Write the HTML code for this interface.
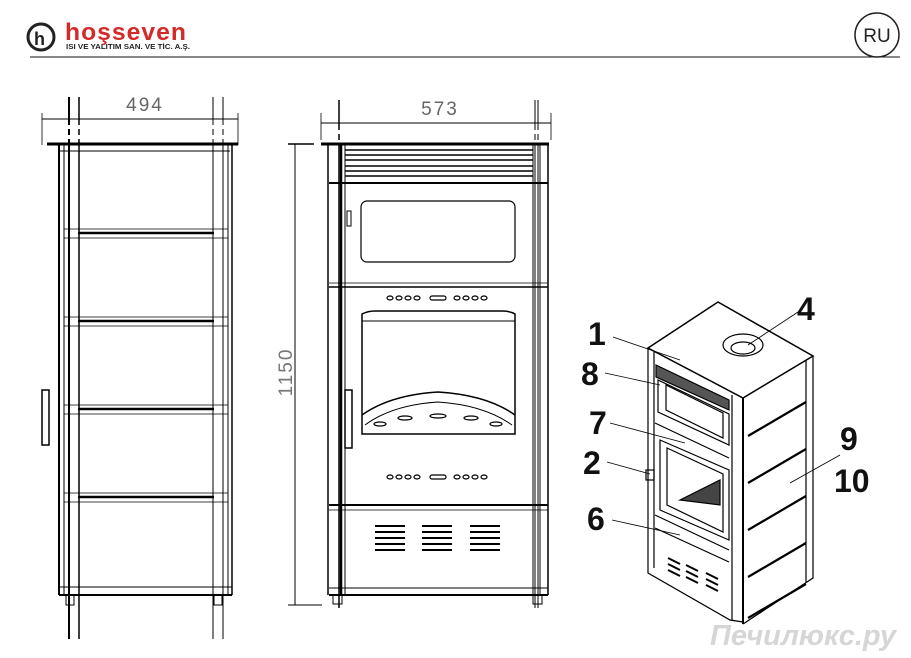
<!DOCTYPE html>
<html><head><meta charset="utf-8"><style>
html,body{margin:0;padding:0;background:#fff;}
svg{display:block;}
</style></head><body>
<svg width="911" height="658" viewBox="0 0 911 658" xmlns="http://www.w3.org/2000/svg" font-family="Liberation Sans, sans-serif">
<!-- header -->
<circle cx="41" cy="37" r="13" fill="none" stroke="#222" stroke-width="3"/>
<text x="34" y="45" font-size="18" font-weight="bold" fill="#222">h</text>
<text x="65" y="40" font-size="24" font-weight="bold" fill="#d42a2a" letter-spacing="1" textLength="122" lengthAdjust="spacingAndGlyphs">hoşseven</text>
<text x="66" y="49" font-size="7" font-weight="bold" fill="#222" textLength="124" lengthAdjust="spacingAndGlyphs">ISI VE YALITIM SAN. VE TİC. A.Ş.</text>
<line x1="30" y1="57" x2="900" y2="57" stroke="#111" stroke-width="1"/>
<circle cx="877" cy="35" r="22" fill="#fff" stroke="#222" stroke-width="1.5"/>
<text x="877" y="42" font-size="19" text-anchor="middle" fill="#222">RU</text>

<!-- LEFT VIEW -->
<g stroke="#000" fill="none">
<text x="145" y="111" font-size="19" fill="#666" stroke="none" text-anchor="middle" letter-spacing="2">494</text>
<line x1="42" y1="119" x2="238" y2="119" stroke-width="1"/>
<line x1="42" y1="113" x2="42" y2="145" stroke-width="0.8"/>
<line x1="238" y1="113" x2="238" y2="145" stroke-width="0.8"/>
<line x1="69" y1="97" x2="69" y2="640" stroke-width="2" stroke-dasharray="28,4,6,4,500"/>
<line x1="79" y1="97" x2="79" y2="640" stroke-width="1.5" stroke-dasharray="28,4,6,4,500"/>
<line x1="213" y1="97" x2="213" y2="640" stroke-width="1" stroke-dasharray="28,4,6,4,500"/>
<line x1="223" y1="97" x2="223" y2="640" stroke-width="1" stroke-dasharray="28,4,6,4,500"/>
<line x1="47" y1="144" x2="238" y2="144" stroke-width="3"/>
<line x1="59" y1="145" x2="59" y2="595" stroke-width="2"/>
<line x1="64" y1="145" x2="64" y2="595" stroke-width="1"/>
<line x1="228" y1="145" x2="228" y2="595" stroke-width="1"/>
<line x1="232" y1="145" x2="232" y2="595" stroke-width="1.5"/>
<line x1="60" y1="151" x2="230" y2="151" stroke-width="1"/>
<g stroke-width="2.5">
<line x1="78" y1="233" x2="214" y2="233"/><line x1="78" y1="321" x2="214" y2="321"/>
<line x1="78" y1="409" x2="214" y2="409"/><line x1="78" y1="497" x2="214" y2="497"/>
</g>
<g stroke-width="0.8">
<line x1="64" y1="238" x2="228" y2="238"/><line x1="64" y1="326" x2="228" y2="326"/>
<line x1="64" y1="414" x2="228" y2="414"/><line x1="64" y1="502" x2="228" y2="502"/>
<line x1="64" y1="229" x2="228" y2="229"/><line x1="64" y1="317" x2="228" y2="317"/>
<line x1="64" y1="405" x2="228" y2="405"/><line x1="64" y1="493" x2="228" y2="493"/>
</g>
<line x1="59" y1="587" x2="232" y2="587" stroke-width="1"/>
<line x1="59" y1="595" x2="232" y2="595" stroke-width="2"/>
<rect x="42" y="390" width="7" height="55" stroke-width="1.5"/>
<rect x="66" y="595" width="8" height="10" stroke-width="1"/>
<rect x="214" y="595" width="8" height="10" stroke-width="1"/>
</g>

<!-- MIDDLE VIEW -->
<g stroke="#000" fill="none">
<text x="440" y="115" font-size="19" fill="#666" stroke="none" text-anchor="middle" letter-spacing="2">573</text>
<line x1="321" y1="123" x2="551" y2="123" stroke-width="1"/>
<line x1="321" y1="113" x2="321" y2="140" stroke-width="0.8"/>
<line x1="551" y1="113" x2="551" y2="140" stroke-width="0.8"/>
<line x1="339" y1="100" x2="339" y2="608" stroke-width="1.5" stroke-dasharray="30,4,6,4,600"/>
<line x1="535" y1="100" x2="535" y2="608" stroke-width="1" stroke-dasharray="30,4,6,4,600"/>
<line x1="538" y1="100" x2="538" y2="608" stroke-width="1" stroke-dasharray="30,4,6,4,600"/>
<!-- vertical dimension -->
<line x1="288" y1="144" x2="314" y2="144" stroke-width="1.5"/>
<line x1="295" y1="144" x2="295" y2="605" stroke-width="1"/>
<line x1="288" y1="605" x2="322" y2="605" stroke-width="1"/>
<text transform="translate(292,372) rotate(-90)" font-size="19" fill="#777" stroke="none" text-anchor="middle" letter-spacing="2">1150</text>
<line x1="321" y1="144" x2="549" y2="144" stroke-width="3"/>
<line x1="328" y1="145" x2="328" y2="595" stroke-width="1.5"/>
<line x1="341" y1="145" x2="341" y2="595" stroke-width="2.5"/>
<line x1="345" y1="145" x2="345" y2="595" stroke-width="1"/>
<line x1="533" y1="145" x2="533" y2="595" stroke-width="1"/>
<line x1="540" y1="145" x2="540" y2="595" stroke-width="1"/>
<line x1="548" y1="145" x2="548" y2="595" stroke-width="1.5"/>
<g stroke-width="1.5">
<line x1="345" y1="150" x2="533" y2="150"/><line x1="345" y1="155" x2="533" y2="155"/>
<line x1="345" y1="160" x2="533" y2="160"/><line x1="345" y1="166" x2="533" y2="166"/>
<line x1="345" y1="171" x2="533" y2="171"/><line x1="345" y1="176" x2="533" y2="176"/>
</g>
<line x1="329" y1="183" x2="548" y2="183" stroke-width="2"/>
<rect x="361" y="201" width="154" height="61" rx="6" stroke-width="1.2"/>
<rect x="347" y="211" width="4" height="15" stroke-width="1"/>
<line x1="329" y1="283" x2="548" y2="283" stroke-width="0.8"/>
<line x1="329" y1="287" x2="548" y2="287" stroke-width="1.5"/>
<g stroke-width="1.2">
<ellipse cx="390" cy="298" rx="3" ry="2"/><ellipse cx="399" cy="298" rx="3" ry="2"/><ellipse cx="408" cy="298" rx="3" ry="2"/><ellipse cx="417" cy="298" rx="3" ry="2"/>
<rect x="430" y="296" width="16" height="4" rx="2"/>
<ellipse cx="457" cy="298" rx="3" ry="2"/><ellipse cx="466" cy="298" rx="3" ry="2"/><ellipse cx="475" cy="298" rx="3" ry="2"/><ellipse cx="484" cy="298" rx="3" ry="2"/>
</g>
<path d="M362 434 V314 Q368 311 375 311 H502 Q510 311 515 314 V434 Z" stroke-width="1.5"/>
<line x1="362" y1="321" x2="515" y2="321" stroke-width="1"/>
<path d="M362 415 Q390 395 438 392 Q487 395 515 415" stroke-width="1.5"/>
<path d="M365 425 Q392 405 438 402 Q484 405 512 425" stroke-width="1"/>
<g stroke-width="1.2">
<ellipse cx="380" cy="424" rx="6" ry="2"/><ellipse cx="405" cy="418" rx="7" ry="2"/><ellipse cx="438" cy="416" rx="8" ry="2"/><ellipse cx="471" cy="418" rx="7" ry="2"/><ellipse cx="496" cy="424" rx="6" ry="2"/>
</g>
<rect x="345" y="390" width="7" height="58" stroke-width="1.5"/>
<g stroke-width="1.2">
<ellipse cx="390" cy="477" rx="3" ry="2"/><ellipse cx="399" cy="477" rx="3" ry="2"/><ellipse cx="408" cy="477" rx="3" ry="2"/><ellipse cx="417" cy="477" rx="3" ry="2"/>
<rect x="430" y="475" width="16" height="4" rx="2"/>
<ellipse cx="457" cy="477" rx="3" ry="2"/><ellipse cx="466" cy="477" rx="3" ry="2"/><ellipse cx="475" cy="477" rx="3" ry="2"/><ellipse cx="484" cy="477" rx="3" ry="2"/>
</g>
<line x1="329" y1="505" x2="548" y2="505" stroke-width="2"/>
<line x1="329" y1="510" x2="548" y2="510" stroke-width="0.8"/>
<g stroke-width="2">
<line x1="375" y1="526" x2="405" y2="526"/><line x1="375" y1="532" x2="405" y2="532"/><line x1="375" y1="538" x2="405" y2="538"/><line x1="375" y1="544" x2="405" y2="544"/><line x1="375" y1="550" x2="405" y2="550"/>
<line x1="422" y1="526" x2="452" y2="526"/><line x1="422" y1="532" x2="452" y2="532"/><line x1="422" y1="538" x2="452" y2="538"/><line x1="422" y1="544" x2="452" y2="544"/><line x1="422" y1="550" x2="452" y2="550"/>
<line x1="470" y1="526" x2="500" y2="526"/><line x1="470" y1="532" x2="500" y2="532"/><line x1="470" y1="538" x2="500" y2="538"/><line x1="470" y1="544" x2="500" y2="544"/><line x1="470" y1="550" x2="500" y2="550"/>
</g>
<line x1="329" y1="588" x2="548" y2="588" stroke-width="1"/>
<line x1="329" y1="595" x2="548" y2="595" stroke-width="2"/>
<rect x="333" y="595" width="9" height="9" stroke-width="1"/>
<rect x="533" y="595" width="9" height="9" stroke-width="1"/>
</g>

<!-- RIGHT 3D VIEW -->
<g stroke="#000" fill="none" stroke-width="1.2">
<path d="M648 348 L718 302 L813 356 L743 398 Z" stroke-width="1.5"/>
<path d="M648 348 V573 L730 620 L743 622"/>
<path d="M654 352 V568"/>
<path d="M743 398 V624" stroke-width="2"/>
<path d="M732 395 V620"/>
<path d="M813 356 V578 L743 624"/>
<path d="M806 360 V582"/>
<ellipse cx="743" cy="345" rx="20" ry="11"/>
<ellipse cx="743" cy="348" rx="12" ry="6"/>
<g stroke-width="2.2">
<line x1="748" y1="436" x2="806" y2="402"/><line x1="748" y1="483" x2="806" y2="449"/>
<line x1="748" y1="530" x2="806" y2="496"/><line x1="748" y1="577" x2="806" y2="543"/>
<line x1="748" y1="618" x2="806" y2="584"/>
</g>
<path d="M658 380 L729 414 L729 445 L658 412 Z"/>
<path d="M666 385 L723 413 L723 438 L666 410 Z"/>
<path d="M660 440 L729 470 L729 540 L660 510 Z"/>
<path d="M667 448 L723 474 L723 532 L667 505 Z"/>
<path d="M680 500 L720 480 L720 505 Z" fill="#444"/>
<path d="M656 365 L729 400 L729 410 L656 377 Z" fill="#555"/>
<g stroke-width="2">
<line x1="668" y1="558" x2="680" y2="564"/><line x1="668" y1="564" x2="680" y2="570"/><line x1="668" y1="570" x2="680" y2="576"/>
<line x1="686" y1="565" x2="698" y2="571"/><line x1="686" y1="571" x2="698" y2="577"/><line x1="686" y1="577" x2="698" y2="583"/>
<line x1="706" y1="573" x2="718" y2="579"/><line x1="706" y1="579" x2="718" y2="585"/><line x1="706" y1="585" x2="718" y2="591"/>
</g>
<line x1="655" y1="423" x2="729" y2="458"/>
<line x1="655" y1="515" x2="729" y2="550"/>
<line x1="655" y1="528" x2="729" y2="562"/>
<rect x="646" y="470" width="8" height="10"/>
<!-- leader lines -->
<line x1="613" y1="337" x2="680" y2="360" stroke-width="0.8"/>
<line x1="605" y1="373" x2="660" y2="385" stroke-width="0.8"/>
<line x1="610" y1="423" x2="685" y2="443" stroke-width="0.8"/>
<line x1="607" y1="462" x2="650" y2="474" stroke-width="0.8"/>
<line x1="612" y1="520" x2="680" y2="535" stroke-width="0.8"/>
<line x1="798" y1="312" x2="748" y2="345" stroke-width="0.8"/>
<line x1="840" y1="455" x2="790" y2="483" stroke-width="0.8"/>
</g>
<g font-size="32" font-weight="bold" fill="#111">
<text x="588" y="345">1</text>
<text x="581" y="385">8</text>
<text x="589" y="434">7</text>
<text x="583" y="474">2</text>
<text x="587" y="530">6</text>
<text x="797" y="320">4</text>
<text x="840" y="450">9</text>
<text x="834" y="492">10</text>
</g>
<text x="710" y="645" font-size="29" font-weight="bold" font-style="italic" fill="#d6d6d6">Печилюкс.ру</text>
</svg>
</body></html>
